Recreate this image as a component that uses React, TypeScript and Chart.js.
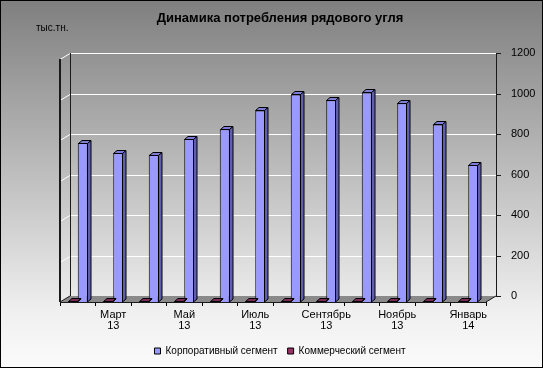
import React, { useEffect, useRef } from "react";
import { Chart, registerables } from "chart.js";

Chart.register(...registerables);

const months = ["Февраль", "Март", "Апрель", "Май", "Июнь", "Июль", "Август", "Сентябрь", "Октябрь", "Ноябрь", "Декабрь", "Январь"];
const years = ["13", "13", "13", "13", "13", "13", "13", "13", "13", "13", "13", "14"];
const corporate = [787, 736, 728, 805, 853, 946, 1025, 996, 1035, 982, 877, 676];
const commercial = [4, 4, 4, 4, 4, 4, 4, 4, 4, 4, 4, 4];
const yTicks = [0, 200, 400, 600, 800, 1000, 1200];
const seriesNames = ["Корпоративный сегмент", "Коммерческий сегмент"];
const titleText = "Динамика потребления рядового угля";
const unitLabel = "тыс.тн.";

const FONT = "'Liberation Sans', Arial, sans-serif";
const DX = 10;
const DY = -6;
const BX = 3.5;
const BY = -3;
const faceColors = [
  ["#7a2a55", "#5e1f40"],
  ["#7d7dd6", "#5f5fae"],
];

function line(ctx: CanvasRenderingContext2D, x1: number, y1: number, x2: number, y2: number) {
  ctx.beginPath();
  ctx.moveTo(x1, y1);
  ctx.lineTo(x2, y2);
  ctx.stroke();
}

function poly(ctx: CanvasRenderingContext2D, pts: number[][], fill: string) {
  ctx.beginPath();
  ctx.moveTo(pts[0][0], pts[0][1]);
  for (let i = 1; i < pts.length; i++) ctx.lineTo(pts[i][0], pts[i][1]);
  ctx.closePath();
  ctx.fillStyle = fill;
  ctx.fill();
  ctx.strokeStyle = "#000";
  ctx.lineWidth = 1;
  ctx.stroke();
}

const bgPlugin = {
  id: "bg",
  beforeDraw(chart: any) {
    const { ctx, width, height } = chart;
    ctx.save();
    const g = ctx.createLinearGradient(0, 0, 0, height);
    g.addColorStop(0, "#7f7f7f");
    g.addColorStop(0.85, "#f0f0f0");
    g.addColorStop(1, "#fbfbfb");
    ctx.fillStyle = g;
    ctx.fillRect(0, 0, width, height);
    ctx.strokeStyle = "#000";
    ctx.lineWidth = 1;
    ctx.strokeRect(0.5, 0.5, width - 1, height - 1);
    ctx.fillStyle = "#000";
    ctx.font = "10px " + FONT;
    ctx.textBaseline = "middle";
    ctx.textAlign = "left";
    ctx.fillText(unitLabel, 36, 28);
    ctx.restore();
  },
};

const wallPlugin = {
  id: "wall",
  beforeDatasetsDraw(chart: any) {
    const { ctx, chartArea: a, scales } = chart;
    const ys = scales.y;
    ctx.save();
    ctx.beginPath();
    ctx.moveTo(a.left, a.bottom);
    ctx.lineTo(a.left + DX, a.bottom + DY);
    ctx.lineTo(a.right + DX, a.bottom + DY);
    ctx.lineTo(a.right, a.bottom);
    ctx.closePath();
    ctx.fillStyle = "#8a8a8a";
    ctx.fill();
    ctx.strokeStyle = "#ffffff";
    ctx.lineWidth = 1;
    for (const v of yTicks) {
      const py = Math.round(ys.getPixelForValue(v)) + 0.5;
      if (v > 0) {
        line(ctx, a.left + DX, py + DY, a.right + DX, py + DY);
        line(ctx, a.left, py, a.left + DX, py + DY);
      }
    }
    ctx.strokeStyle = "#1a1a1a";
    line(ctx, a.left + DX + 0.5, a.top + DY, a.left + DX + 0.5, a.bottom + DY);
    line(ctx, a.right + DX + 0.5, a.top + DY, a.right + DX + 0.5, a.bottom + DY);
    for (const v of yTicks) {
      const py = Math.round(ys.getPixelForValue(v)) + 0.5;
      line(ctx, a.right + DX, py + DY, a.right + DX + 5, py + DY);
    }
    line(ctx, a.left, a.bottom + 0.5, a.right, a.bottom + 0.5);
    line(ctx, a.right, a.bottom, a.right + DX, a.bottom + DY);
    line(ctx, a.left, a.bottom, a.left + DX, a.bottom + DY);
    ctx.lineWidth = 2;
    line(ctx, a.left, a.top, a.left, a.bottom);
    ctx.restore();
  },
};

const bar3dPlugin = {
  id: "bar3d",
  afterDatasetsDraw(chart: any) {
    const { ctx } = chart;
    ctx.save();
    chart.data.datasets.forEach((_ds: any, di: number) => {
      const meta = chart.getDatasetMeta(di);
      const [topC, sideC] = faceColors[di];
      meta.data.forEach((bar: any) => {
        const { x, y, base, width } = bar.getProps(["x", "y", "base", "width"], true);
        const l = Math.round(x - width / 2) + 0.5;
        const r = Math.round(x + width / 2) - 0.5;
        const t = Math.round(y) + 0.5;
        poly(ctx, [[l, t], [l + BX, t + BY], [r + BX, t + BY], [r, t]], topC);
        poly(ctx, [[r, t], [r + BX, t + BY], [r + BX, base + BY], [r, base]], sideC);
      });
    });
    ctx.restore();
  },
};

export default function App() {
  const ref = useRef<HTMLCanvasElement | null>(null);
  useEffect(() => {
    if (!ref.current) return;
    const chart = new Chart(ref.current, {
      type: "bar",
      data: {
        labels: months.map((m, i) => m + " " + years[i]),
        datasets: [
          {
            label: seriesNames[1],
            data: commercial,
            backgroundColor: "#993366",
            borderColor: "#000",
            borderWidth: 1,
            categoryPercentage: 0.5634,
            barPercentage: 1,
          },
          {
            label: seriesNames[0],
            data: corporate,
            backgroundColor: "#9999FF",
            borderColor: "#000",
            borderWidth: 1,
            categoryPercentage: 0.5634,
            barPercentage: 1,
          },
        ],
      },
      options: {
        responsive: false,
        animation: false,
        devicePixelRatio: 1,
        layout: { padding: { left: 17, right: 0, top: 0, bottom: 2 } },
        plugins: {
          title: {
            display: true,
            text: titleText,
            color: "#000",
            font: { family: FONT, size: 13, weight: "bold" },
            padding: { top: 11, bottom: 32.4 },
          },
          legend: {
            position: "bottom",
            reverse: true,
            labels: {
              boxWidth: 6,
              boxHeight: 6,
              font: { family: FONT, size: 10 },
              color: "#000",
              padding: 10,
            },
          },
          tooltip: { enabled: false },
        },
        scales: {
          x: {
            grid: { offset: true, drawOnChartArea: false, tickLength: 4, color: "#000" },
            border: { display: false },
            ticks: {
              autoSkip: false,
              maxRotation: 0,
              font: { family: FONT, size: 11, lineHeight: 1 },
              color: "#000",
              padding: 3,
              callback: (_v: any, i: number) => (i % 2 === 1 ? [months[i], years[i]] : ""),
            },
            afterFit: (s: any) => {
              s.height = 34;
            },
          },
          y: {
            position: "right",
            min: 0,
            max: 1200,
            ticks: {
              stepSize: 200,
              font: { family: FONT, size: 11 },
              color: "#000",
              padding: 17,
              labelOffset: -6,
              callback: (v: any) => String(v),
            },
            grid: { display: false },
            border: { display: false },
            afterFit: (s: any) => {
              s.width = 57;
            },
          },
          spacer: {
            type: "linear",
            position: "left",
            display: true,
            grid: { display: false },
            border: { display: false },
            ticks: { display: false },
            afterFit: (s: any) => {
              s.width = 43;
            },
          },
        },
      } as any,
      plugins: [bgPlugin, wallPlugin, bar3dPlugin],
    });
    return () => chart.destroy();
  }, []);
  return (
    <div style={{ position: "absolute", left: 0, top: 0, width: 543, height: 368 }}>
      <canvas ref={ref} width={543} height={368} style={{ display: "block" }} />
    </div>
  );
}
